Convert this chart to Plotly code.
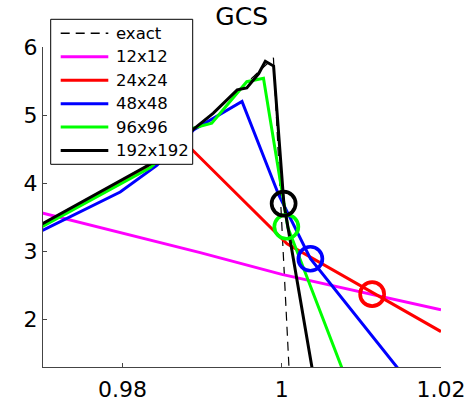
import plotly.graph_objects as go

# Solution profiles near the shock, x in [0.97, 1.02]
exact_x = [0.9700, 0.9835, 0.9914, 0.9927, 0.9965, 0.99895, 1.0009, 1.00095]
exact_y = [3.40, 4.27, 5.03, 5.18, 5.57, 5.84, 1.30, 1.20]

m12_x = [0.9690, 0.9700, 0.98975, 1.0000, 1.0200]
m12_y = [3.59, 3.56, 2.98, 2.66, 2.14]

m24_x = [0.9690, 0.9700, 0.9822, 0.9875, 0.98849, 1.00066, 1.0200]
m24_y = [3.33, 3.38, 4.17, 4.63, 4.52, 3.11, 1.82]

m48_x = [0.9690, 0.9700, 0.9797, 0.9843, 0.9889, 0.9950, 0.9996, 1.0036, 1.0150]
m48_y = [3.25, 3.31, 3.87, 4.26, 4.78, 5.20, 3.83, 2.89, 1.22]

m96_x = [0.9690, 0.9700, 0.9835, 0.9889, 0.9912, 0.9956, 0.9977, 1.00076, 1.0080]
m96_y = [3.31, 3.37, 4.23, 4.81, 4.88, 5.49, 5.54, 3.35, 1.15]

m192_x = [0.9690, 0.9700, 0.9835, 0.9914, 0.9944, 0.9956, 0.9971, 0.99793, 0.99897, 1.00026, 1.0040]
m192_y = [3.35, 3.41, 4.28, 5.03, 5.37, 5.40, 5.61, 5.79, 5.72, 3.70, 1.15]

# Marked shock positions for each grid
shock_x = [1.01135, 1.00359, 1.00057, 1.00023]
shock_y = [2.37, 2.89, 3.36, 3.70]
shock_colors = ["#ff0000", "#0000ff", "#00ff00", "#000000"]

grid_names = ["12x12", "24x24", "48x48", "96x96", "192x192"]
grid_colors = ["#ff00ff", "#ff0000", "#0000ff", "#00ff00", "#000000"]
grid_x = [m12_x, m24_x, m48_x, m96_x, m192_x]
grid_y = [m12_y, m24_y, m48_y, m96_y, m192_y]

x_ticks = [0.98, 1.0, 1.02]
x_tick_text = ["0.98", "1", "1.02"]
y_ticks = [2, 3, 4, 5, 6]

FONT = "DejaVu Sans, Verdana, sans-serif"
EXACT_DASH = "9px,6px"

# Plot-area geometry (pixels) used to place the boxed legend
W, H = 476, 403
ML, MR, MT, MB = 43, 35, 47, 36
PW, PH = W - ML - MR, H - MT - MB


def px_x(p):
    return (p - ML) / PW


def px_y(p):
    return (H - MB - p) / PH


fig = go.Figure()

fig.add_trace(go.Scatter(
    x=exact_x, y=exact_y, mode="lines", name="exact", showlegend=False,
    line=dict(color="black", width=1.2, dash=EXACT_DASH),
))

for name, color, xs, ys in zip(grid_names, grid_colors, grid_x, grid_y):
    fig.add_trace(go.Scatter(
        x=xs, y=ys, mode="lines", name=name, showlegend=False,
        line=dict(color=color, width=3),
    ))

for sx, sy, c in zip(shock_x, shock_y, shock_colors):
    fig.add_trace(go.Scatter(
        x=[sx], y=[sy], mode="markers", showlegend=False,
        marker=dict(symbol="circle-open", size=24, color=c,
                    line=dict(color=c, width=3.7)),
    ))

# Boxed legend in the upper-left corner
shapes = [dict(
    type="rect", xref="paper", yref="paper", layer="above",
    x0=px_x(50.7), x1=px_x(192.7), y0=px_y(164.3), y1=px_y(19.3),
    fillcolor="white", line=dict(color="black", width=1),
)]
annotations = []
entries = [("exact", "black", 1.5, EXACT_DASH)] + [
    (n, c, 3, "solid") for n, c in zip(grid_names, grid_colors)
]
for i, (label, color, lw, dash) in enumerate(entries):
    row = 33.3 + 23.45 * i
    shapes.append(dict(
        type="line", xref="paper", yref="paper", layer="above",
        x0=px_x(60.7), x1=px_x(108.3), y0=px_y(row), y1=px_y(row),
        line=dict(color=color, width=lw, dash=dash),
    ))
    annotations.append(dict(
        text=label, xref="paper", yref="paper", showarrow=False,
        x=px_x(113.5), y=px_y(row), xanchor="left", yanchor="middle",
        font=dict(family=FONT, size=16.5, color="black"),
    ))

fig.update_layout(
    width=W, height=H,
    margin=dict(l=ML, r=MR, t=MT, b=MB, autoexpand=False),
    paper_bgcolor="white", plot_bgcolor="white",
    font=dict(family=FONT, color="black", size=22),
    title=dict(text="GCS", x=241.7 / W, xanchor="center", y=1 - 16.5 / H,
               yanchor="middle", font=dict(family=FONT, size=25, color="black")),
    showlegend=False,
    shapes=shapes,
    annotations=annotations,
    xaxis=dict(
        range=[0.97, 1.02], showgrid=False, zeroline=False,
        showline=True, linecolor="#444", linewidth=1, mirror=False,
        ticks="inside", ticklen=4, tickcolor="#444",
        tickvals=x_ticks, ticktext=x_tick_text, ticklabelstandoff=3,
        tickfont=dict(family=FONT, size=22, color="black"),
    ),
    yaxis=dict(
        range=[1.3, 6.0], showgrid=False, zeroline=False,
        showline=True, linecolor="#444", linewidth=1, mirror=False,
        ticks="inside", ticklen=4, tickcolor="#444",
        tickvals=y_ticks,
        tickfont=dict(family=FONT, size=22, color="black"),
    ),
)

fig.write_html("out.html")
